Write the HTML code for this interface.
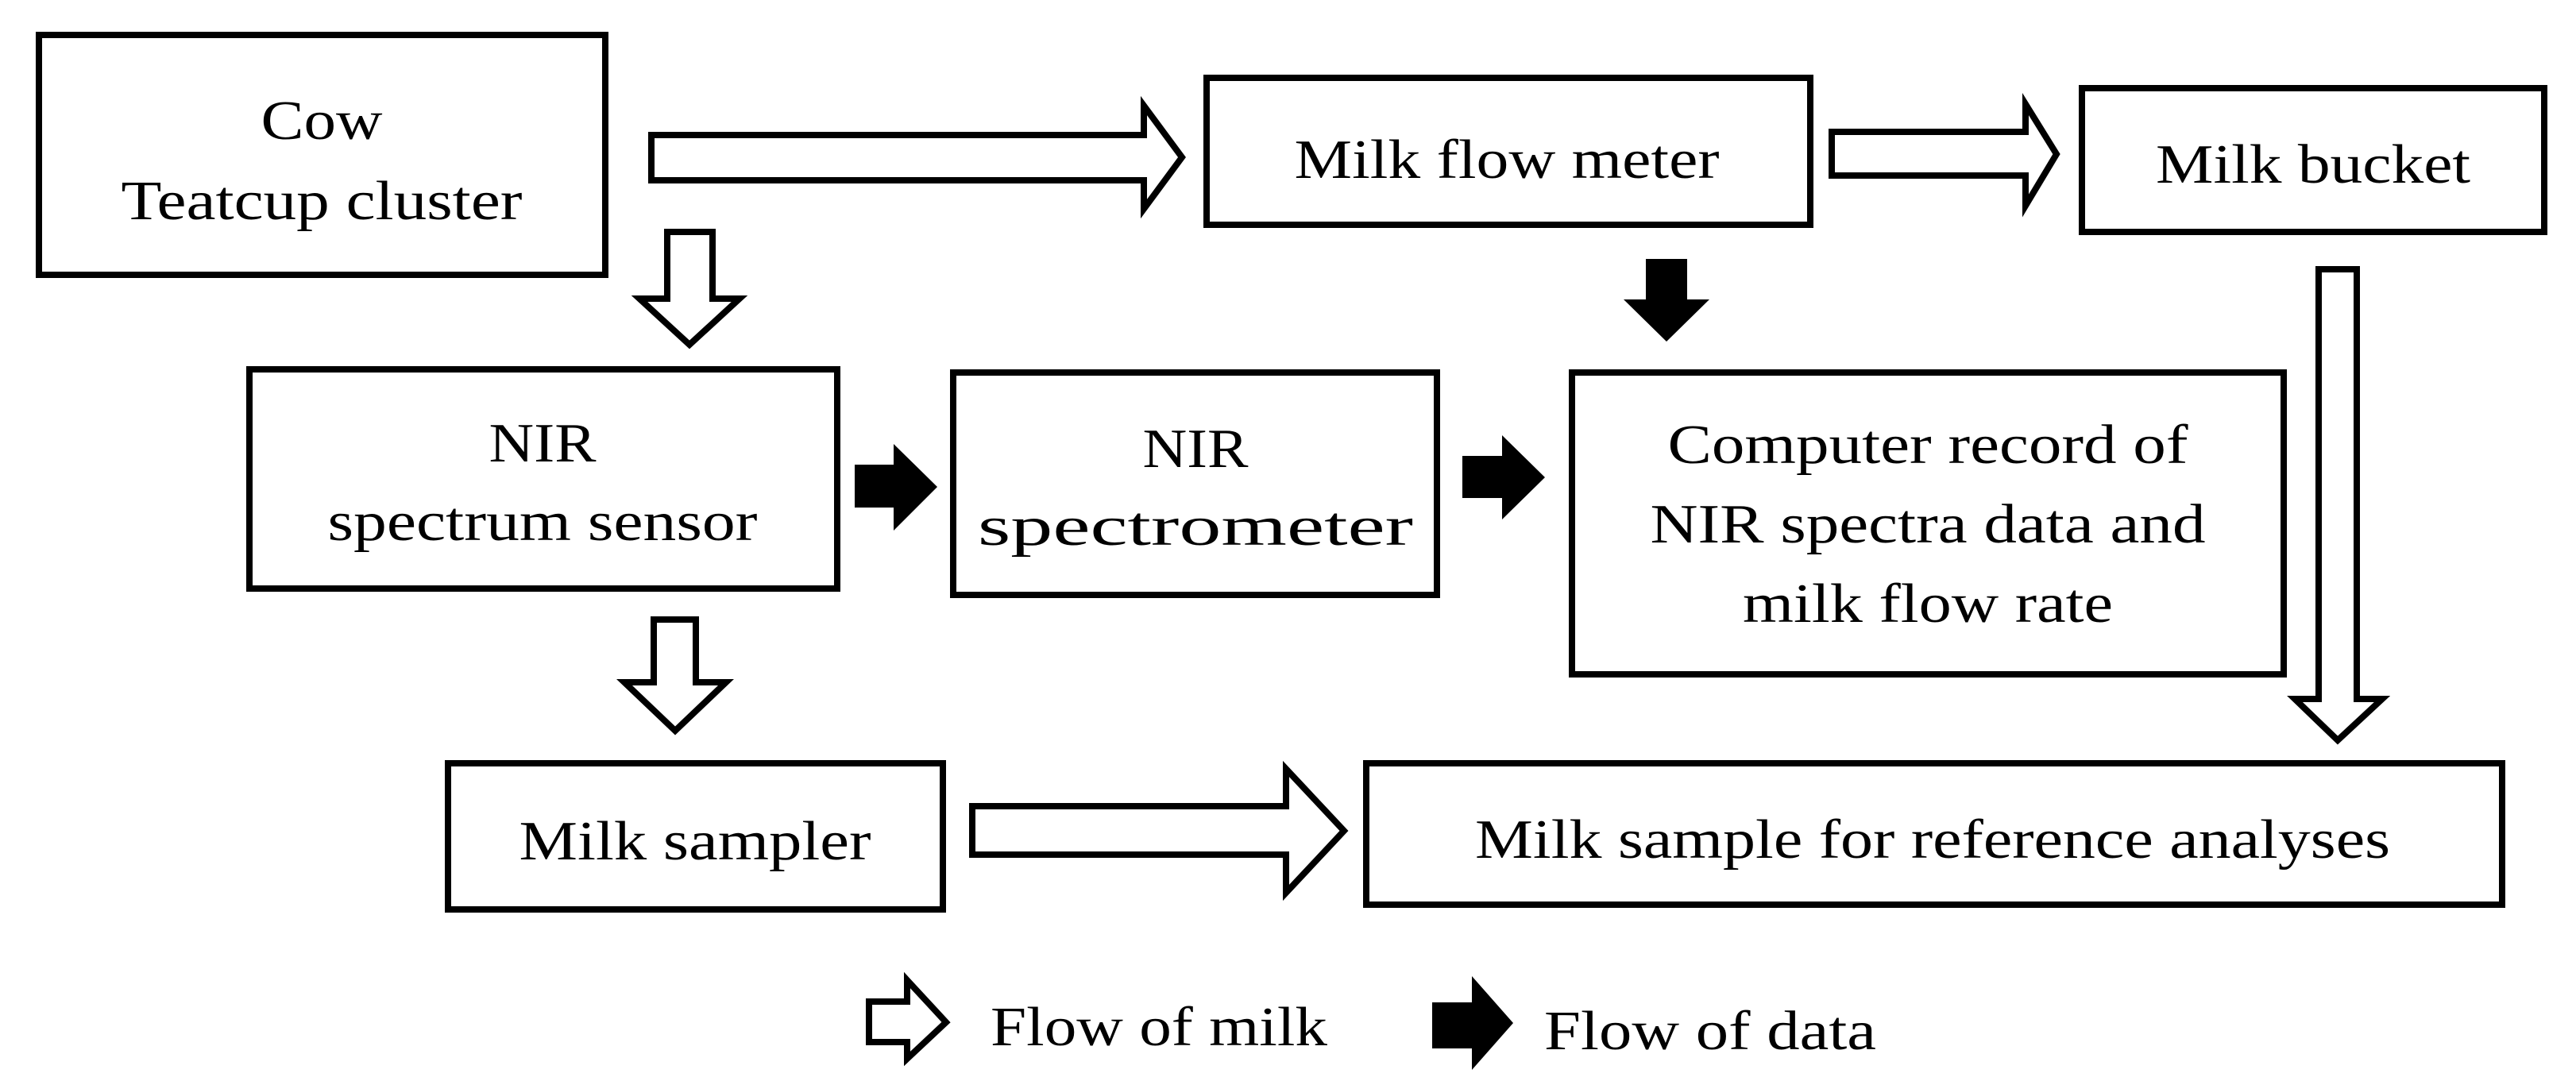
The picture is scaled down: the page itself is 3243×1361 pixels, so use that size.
<!DOCTYPE html>
<html><head><meta charset="utf-8"><style>
html,body{margin:0;padding:0;background:#fff;}
svg{display:block;}
text{font-family:"Liberation Serif",serif;font-size:70px;fill:#000;text-anchor:middle;}
</style></head><body>
<svg width="3243" height="1361" viewBox="0 0 3243 1361" xmlns="http://www.w3.org/2000/svg">
<g fill="#fff" stroke="#000" stroke-width="8">
<rect x="49" y="44" width="713" height="302"/>
<rect x="1519" y="98" width="760" height="185"/>
<rect x="2621" y="111" width="582" height="181"/>
<rect x="314" y="465" width="740" height="276"/>
<rect x="1200" y="469" width="609" height="280"/>
<rect x="1979" y="469" width="896" height="380"/>
<rect x="564" y="961" width="623" height="184"/>
<rect x="1720" y="961" width="1430" height="178"/>
<polygon points="820,170 1440,170 1440,133 1488,198 1440,263 1440,227 820,227"/>
<polygon points="2306,166 2550,166 2550,131 2589,194 2550,259 2550,221 2306,221"/>
<polygon points="840,292 897,292 897,376 931,376 868,434 805,376 840,376"/>
<polygon points="823,780 876,780 876,859 914,859 850,920 786,859 823,859"/>
<polygon points="2919,339 2967,339 2967,880 2999,880 2943,932 2889,880 2919,880"/>
<polygon points="1224,1015 1619,1015 1619,968 1692,1046 1619,1124 1619,1076 1224,1076"/>
<polygon points="1094,1261 1142,1261 1142,1234 1191,1287 1142,1333 1142,1312 1094,1312"/>
</g>
<g fill="#000">
<polygon points="1076,585 1125,585 1125,559 1180,613 1125,668 1125,639 1076,639"/>
<polygon points="1841,574 1891,574 1891,548 1945,601 1891,654 1891,627 1841,627"/>
<polygon points="2072,326 2124,326 2124,377 2152,377 2098,430 2044,377 2072,377"/>
<polygon points="1803,1262 1853,1262 1853,1229 1905,1288 1853,1347 1853,1320 1803,1320"/>
</g>
<text x="405" y="175" textLength="153" lengthAdjust="spacingAndGlyphs">Cow</text>
<text x="405" y="276" textLength="505" lengthAdjust="spacingAndGlyphs">Teatcup cluster</text>
<text x="1897" y="224" textLength="535" lengthAdjust="spacingAndGlyphs">Milk flow meter</text>
<text x="2912" y="230" textLength="396" lengthAdjust="spacingAndGlyphs">Milk bucket</text>
<text x="683" y="581" textLength="135" lengthAdjust="spacingAndGlyphs">NIR</text>
<text x="683" y="680" textLength="541" lengthAdjust="spacingAndGlyphs">spectrum sensor</text>
<text x="1505" y="588" textLength="133" lengthAdjust="spacingAndGlyphs">NIR</text>
<text x="1505" y="686" textLength="548" lengthAdjust="spacingAndGlyphs">spectrometer</text>
<text x="2427" y="583" textLength="655" lengthAdjust="spacingAndGlyphs">Computer record of</text>
<text x="2427" y="683" textLength="699" lengthAdjust="spacingAndGlyphs">NIR spectra data and</text>
<text x="2427" y="783" textLength="466" lengthAdjust="spacingAndGlyphs">milk flow rate</text>
<text x="875" y="1082" textLength="443" lengthAdjust="spacingAndGlyphs">Milk sampler</text>
<text x="2433" y="1080" textLength="1152" lengthAdjust="spacingAndGlyphs">Milk sample for reference analyses</text>
<text x="1459" y="1316" textLength="424" lengthAdjust="spacingAndGlyphs">Flow of milk</text>
<text x="2153" y="1321" textLength="418" lengthAdjust="spacingAndGlyphs">Flow of data</text>
</svg>
</body></html>
